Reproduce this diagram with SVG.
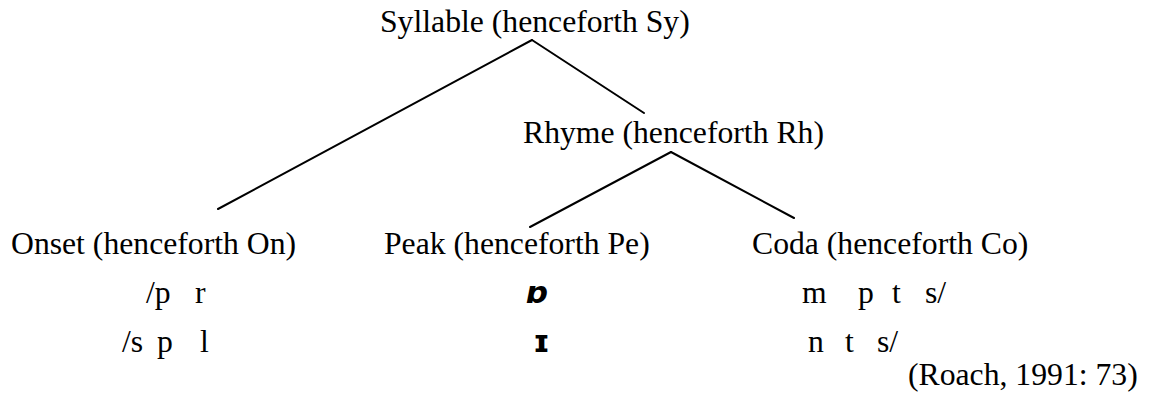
<svg xmlns="http://www.w3.org/2000/svg" width="1151" height="399" viewBox="0 0 1151 399">
  <style>
    .lbl { font-family: "Liberation Serif", "Times New Roman", serif; font-size: 31.7px; fill: #000; }
    .ipa { font-family: "DejaVu Sans", "Noto Sans", sans-serif; font-size: 31px; font-weight: bold; fill: #000; }
    .edge { stroke: #000; stroke-width: 2; fill: none; stroke-linecap: round; }
  </style>
  <rect width="1151" height="399" fill="#fff"/>

  <!-- tree branches -->
  <g id="connectors">
    <line class="edge" x1="532" y1="40" x2="218" y2="209"/>
    <line class="edge" x1="532" y1="40" x2="644" y2="113"/>
    <line class="edge" x1="671" y1="152" x2="530" y2="227"/>
    <line class="edge" x1="671" y1="152" x2="794" y2="218"/>
  </g>

  <g id="syllable">
    <text class="lbl" x="380" y="32">Syllable (henceforth Sy)</text>
  </g>

  <g id="rhyme">
    <text class="lbl" x="523" y="143">Rhyme (henceforth Rh)</text>
  </g>

  <g id="onset">
    <text class="lbl" x="11" y="254">Onset (henceforth On)</text>
    <text class="lbl" x="146" y="303">/p</text>
    <text class="lbl" x="195" y="303">r</text>
    <text class="lbl" x="122" y="352">/s</text>
    <text class="lbl" x="157" y="352">p</text>
    <text class="lbl" x="200" y="352">l</text>
  </g>

  <g id="peak">
    <text class="lbl" x="384" y="254">Peak (henceforth Pe)</text>
    <text class="ipa" x="527" y="303" font-style="italic">ɒ</text>
    <text class="ipa" x="533" y="352">ɪ</text>
  </g>

  <g id="coda">
    <text class="lbl" x="752" y="254">Coda (henceforth Co)</text>
    <text class="lbl" x="802" y="303">m</text>
    <text class="lbl" x="858" y="303">p</text>
    <text class="lbl" x="892" y="303">t</text>
    <text class="lbl" x="925" y="303">s/</text>
    <text class="lbl" x="808" y="352">n</text>
    <text class="lbl" x="845" y="352">t</text>
    <text class="lbl" x="877" y="352">s/</text>
  </g>

  <g id="source">
    <text class="lbl" x="908" y="385">(Roach, 1991: 73)</text>
  </g>
</svg>
